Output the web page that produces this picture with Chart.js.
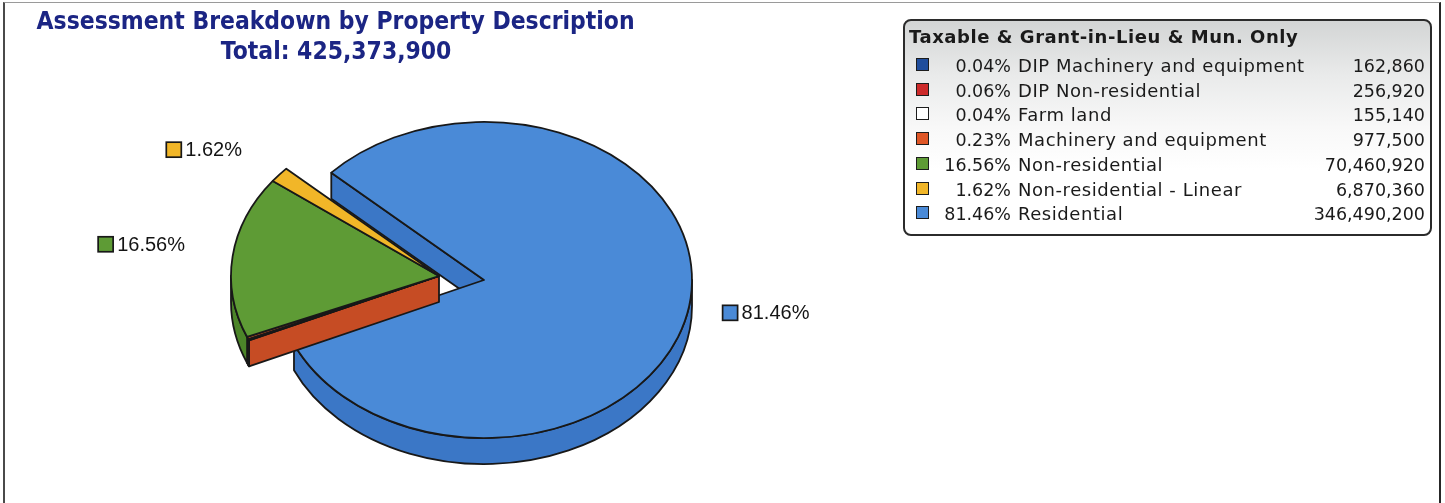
<!DOCTYPE html>
<html>
<head>
<meta charset="utf-8">
<script src="https://cdn.jsdelivr.net/npm/chart.js@4.4.1/dist/chart.umd.min.js"></script>
<style>
  html, body { margin: 0; padding: 0; background: #fff; }
  #wrap { position: relative; width: 1445px; height: 503px; overflow: hidden; background: #fff; }
  #frame { position: absolute; left: 3px; top: 2px; width: 1434px; height: 560px;
           border-left: 2px solid #4a4a4a; border-top: 1px solid #9a9a9a; border-right: 2px solid #262626; }
  #pie { position: absolute; left: 0; top: 0; }
  #title { position: absolute; left: 0; top: 0; width: 672px; text-align: center;
           font-family: "DejaVu Sans", Verdana, sans-serif; font-weight: bold; font-size: 24px;
           color: #1b2584; }
  #title div { position: absolute; left: 0; width: 672px; line-height: 30px; }
  #title span { display: inline-block; white-space: nowrap; transform-origin: 50% 50%; }
  #legend { position: absolute; left: 903px; top: 19px; width: 525px; height: 213px;
            border: 2px solid #2b2b2b; border-radius: 8px;
            background: linear-gradient(to bottom, #d3d5d5 0%, #e9eaea 25%, #f8f8f8 50%, #ffffff 70%);
            font-family: "DejaVu Sans", Verdana, sans-serif; color: #1a1a1a; }
  #legend .head { position: absolute; left: 4px; top: 5px; font-weight: bold; font-size: 18px;
                  letter-spacing: 0.55px; white-space: nowrap; }
  #legend .row { position: absolute; left: 0; width: 525px; height: 24px; font-size: 17.5px; line-height: 24px; }
  #legend .sw { position: absolute; left: 11px; top: 4px; width: 11px; height: 11px; border: 1.6px solid #1c1c1c; }
  #legend .pct { position: absolute; right: 419px; top: 0; white-space: nowrap; }
  #legend .lab { position: absolute; left: 113px; top: 0; white-space: nowrap; letter-spacing: 0.55px; font-size: 18px; }
  #legend .val { position: absolute; right: 5px; top: 0; white-space: nowrap; }
</style>
</head>
<body>
<div id="wrap">
  <div id="frame"></div>
  <canvas id="pie" width="1445" height="503"></canvas>
  <div id="title"></div>
  <div id="legend"></div>
</div>
<script>
// Assessment by property description
const categories = [
  'DIP Machinery and equipment',
  'DIP Non-residential',
  'Farm land',
  'Machinery and equipment',
  'Non-residential',
  'Non-residential - Linear',
  'Residential'
];
const assessedValues = [162860, 256920, 155140, 977500, 70460920, 6870360, 346490200];
const pulledOut = [true, true, true, true, true, true, false];

const legendTitle = 'Taxable & Grant-in-Lieu & Mun. Only';
const chartTitle = 'Assessment Breakdown by Property Description';

// Slice colours: top face and side walls
const topColours  = ['#1f4d9c', '#cd2a2a', '#ffffff', '#df5626', '#5e9b35', '#f1b628', '#4a8ad7'];
const sideColours = ['#173c7c', '#a82020', '#d8d8d8', '#c64c24', '#4c8529', '#d79d1c', '#3b77c6'];

const total = assessedValues.reduce((a, b) => a + b, 0);
const pct = v => (v / total * 100).toFixed(2) + '%';
const fmt = v => v.toLocaleString('en-US');

// ---- title ----
const titleEl = document.getElementById('title');
[[chartTitle, 6], ['Total: ' + fmt(total), 36]].forEach(([t, y]) => {
  const d = document.createElement('div');
  d.style.top = y + 'px';
  const s = document.createElement('span');
  s.textContent = t;
  d.appendChild(s);
  titleEl.appendChild(d);
});
const spans = titleEl.querySelectorAll('span');
const squeeze = 598 / spans[0].getBoundingClientRect().width;
spans.forEach(s => s.style.transform = 'scaleX(' + squeeze + ')');

// ---- legend table ----
const legendEl = document.getElementById('legend');
const head = document.createElement('div');
head.className = 'head';
head.textContent = legendTitle;
legendEl.appendChild(head);
categories.forEach((c, i) => {
  const row = document.createElement('div');
  row.className = 'row';
  row.style.top = (33 + i * 24.7) + 'px';
  row.innerHTML = '<div class="sw"></div><div class="pct"></div><div class="lab"></div><div class="val"></div>';
  row.querySelector('.sw').style.background = topColours[i];
  row.querySelector('.pct').textContent = pct(assessedValues[i]);
  row.querySelector('.lab').textContent = c;
  row.querySelector('.val').textContent = fmt(assessedValues[i]);
  legendEl.appendChild(row);
});

// ---- 3D pie drawn from the arc elements Chart.js lays out ----
const TILT = 0.76;       // vertical squash of the pie disc
const DEPTH = 26;        // thickness of the disc
const PULL = { x: -45, y: -4 };  // offset of the pulled-out group
const MIN_FACE = 0.5 * Math.PI / 180; // hairline slices get no cut face
const OUTLINE = '#181818';

function ell(s, a, dy) {
  return [s.cx + s.r * Math.cos(a), s.cy + s.r * TILT * Math.sin(a) + (dy || 0)];
}

function drawGroup(ctx, group) {
  ctx.lineWidth = 1.8;
  ctx.lineJoin = 'round';
  ctx.strokeStyle = OUTLINE;
  // cut faces at the two ends of the group
  const wide = group.filter(s => s.e - s.s >= MIN_FACE);
  const first = wide[0], last = wide[wide.length - 1];
  const faces = [];
  if (Math.cos(group[0].s) < 0) faces.push({ s: first, a: group[0].s });
  if (Math.cos(group[group.length - 1].e) > 0) faces.push({ s: last, a: group[group.length - 1].e });
  faces.forEach(f => {
    const s = f.s;
    const p = ell(s, f.a), q = ell(s, f.a, DEPTH);
    ctx.beginPath();
    ctx.moveTo(s.cx, s.cy);
    ctx.lineTo(p[0], p[1]);
    ctx.lineTo(q[0], q[1]);
    ctx.lineTo(s.cx, s.cy + DEPTH);
    ctx.closePath();
    ctx.fillStyle = sideColours[s.i];
    ctx.fill();
    ctx.stroke();
  });
  // rim walls on the front half of the disc
  group.forEach(s => {
    for (let n = -2; n <= 3; n++) {
      const a0 = Math.max(s.s, 2 * Math.PI * n), a1 = Math.min(s.e, 2 * Math.PI * n + Math.PI);
      if (a1 - a0 <= 0.0005) continue;
      ctx.beginPath();
      ctx.ellipse(s.cx, s.cy, s.r, s.r * TILT, 0, a0, a1, false);
      const q = ell(s, a1, DEPTH);
      ctx.lineTo(q[0], q[1]);
      ctx.ellipse(s.cx, s.cy + DEPTH, s.r, s.r * TILT, 0, a1, a0, true);
      ctx.closePath();
      ctx.fillStyle = sideColours[s.i];
      ctx.fill();
      ctx.stroke();
    }
  });
  // top faces
  group.forEach(s => {
    ctx.beginPath();
    ctx.moveTo(s.cx, s.cy);
    ctx.ellipse(s.cx, s.cy, s.r, s.r * TILT, 0, s.s, s.e, false);
    ctx.closePath();
    ctx.fillStyle = topColours[s.i];
    ctx.fill();
    ctx.stroke();
  });
}

function sliceGeometry(chart) {
  return chart.getDatasetMeta(0).data.map((arc, i) => {
    const p = arc.getProps(['x', 'y', 'startAngle', 'endAngle', 'outerRadius'], true);
    const off = pulledOut[i] ? PULL : { x: 0, y: 0 };
    return { i, s: p.startAngle, e: p.endAngle, r: p.outerRadius, cx: p.x + off.x, cy: p.y + off.y };
  });
}

const pie3d = {
  id: 'pie3d',
  beforeDatasetDraw(chart) {
    const ctx = chart.ctx;
    const slices = sliceGeometry(chart);
    ctx.save();
    drawGroup(ctx, slices.filter(s => !pulledOut[s.i]));
    drawGroup(ctx, slices.filter(s => pulledOut[s.i]));
    ctx.restore();
    return false;
  },
  afterDatasetsDraw(chart) {
    const ctx = chart.ctx;
    const slices = sliceGeometry(chart);
    ctx.save();
    ctx.font = '20px "Liberation Sans", Arial, sans-serif';
    ctx.textBaseline = 'middle';
    slices.forEach(s => {
      const v = assessedValues[s.i];
      if (v / total < 0.01) return;
      const m = (s.s + s.e) / 2;
      const c = Math.cos(m), sn = Math.sin(m);
      const ax = s.cx + (s.r + 46) * c;
      const ay = s.cy + (s.r * TILT + 25) * sn + (c < 0 ? -9 : 3);
      const txt = pct(v);
      const tw = ctx.measureText(txt).width;
      const left = c < 0 ? ax - tw - 21 : ax - 12;
      ctx.fillStyle = topColours[s.i];
      ctx.fillRect(left, ay - 7.5, 15, 15);
      ctx.lineWidth = 1.7;
      ctx.strokeStyle = OUTLINE;
      ctx.strokeRect(left, ay - 7.5, 15, 15);
      ctx.fillStyle = '#141414';
      ctx.textAlign = 'left';
      ctx.fillText(txt, left + 19, ay + 1);
    });
    ctx.restore();
  }
};

new Chart(document.getElementById('pie'), {
  type: 'pie',
  data: {
    labels: categories,
    datasets: [{ data: assessedValues, backgroundColor: topColours, borderWidth: 0 }]
  },
  options: {
    responsive: false,
    animation: false,
    events: [],
    rotation: 246,
    layout: { padding: { left: 276, right: 753, top: 72, bottom: 15 } },
    plugins: { legend: { display: false }, title: { display: false }, tooltip: { enabled: false } }
  },
  plugins: [pie3d]
});
</script>
</body>
</html>
